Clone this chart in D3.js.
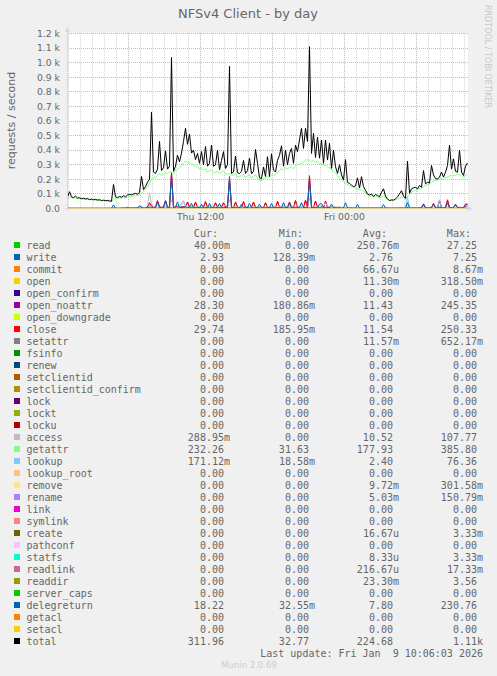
<!DOCTYPE html>
<html>
<head>
<meta charset="utf-8">
<script src="https://cdn.jsdelivr.net/npm/d3@7"></script>
<style>
html, body { margin: 0; padding: 0; background: #f0f0f0; }
svg { display: block; }
</style>
</head>
<body>
<svg id="chart" width="497" height="676"></svg>
<script>
const title = 'NFSv4 Client - by day';
const yLabel = 'requests / second';
const watermark = 'RRDTOOL / TOBI OETIKER';
const lastUpdate = 'Last update: Fri Jan  9 10:06:03 2026';
const version = 'Munin 2.0.69';

// 10 minute steps, first sample Thu 00:55
const startTime = new Date(2026, 0, 8, 0, 55);
const stepMinutes = 10;
const yMax = 1200;
const yTickStep = 100;

const total = [
	78,115,80,75,85,72,74,68,70,66,68,62,64,60,63,58,60,55,57,54,
	56,52,50,165,80,75,82,78,88,80,92,96,94,100,104,98,110,220,130,150,
	180,200,660,250,240,270,460,260,280,395,270,290,1035,255,290,365,320,380,460,550,
	440,510,380,400,335,378,310,390,300,425,290,310,435,290,300,400,265,330,390,275,
	300,975,240,250,360,245,240,255,330,240,260,345,238,255,405,310,210,205,285,220,
	355,220,375,265,250,330,365,430,290,400,300,378,412,310,435,390,470,550,412,550,
	460,1110,378,515,350,490,345,470,310,470,332,447,275,400,287,240,300,230,195,335,
	178,172,160,150,155,210,140,218,150,125,100,92,100,82,95,90,80,112,135,85,
	66,55,59,58,66,80,100,122,85,70,325,105,135,142,145,135,158,146,260,169,
	180,175,295,230,205,203,215,250,215,249,295,435,270,340,255,249,398,250,226,290,
	312
];

const getattr = [
	70,74,74,70,72,68,68,65,65,63,63,60,60,58,58,55,56,53,53,50,
	51,49,48,60,70,70,72,72,75,74,78,82,84,88,90,90,95,105,120,135,
	150,170,200,215,215,225,240,225,235,245,240,250,252,235,265,270,280,290,310,325,
	318,315,305,300,285,290,270,280,260,275,250,258,265,245,250,255,240,250,260,240,
	235,238,225,230,240,215,220,225,235,212,222,230,210,218,232,205,195,190,205,210,
	225,215,230,225,232,250,260,275,262,280,270,285,280,275,290,300,305,310,318,330,
	335,330,320,330,315,325,305,310,295,300,285,280,270,250,240,225,210,195,185,175,
	165,158,150,145,140,135,130,128,118,110,90,85,86,78,80,80,74,80,84,76,
	62,52,55,54,60,62,70,78,72,62,85,95,112,120,125,130,135,140,150,158,
	162,168,180,190,192,195,200,205,200,212,215,225,225,230,226,235,232,225,212,228,
	232
];

const close = [
	1,1,1,1,1,1,1,1,1,1,1,1,1,1,1,1,1,1,1,1,
	1,1,1,2,1,1,1,2,2,2,8,3,2,2,3,2,3,10,4,5,
	8,35,20,6,10,55,12,8,10,55,8,10,248,8,15,12,8,10,12,15,
	45,10,8,6,45,8,6,6,8,48,6,8,6,8,40,8,6,8,40,10,
	8,210,8,6,45,8,6,8,48,6,8,6,6,45,8,6,6,8,6,40,
	8,6,6,8,6,50,8,6,8,6,8,45,8,6,55,8,6,8,6,58,
	8,225,8,6,52,8,6,10,6,52,8,6,8,6,5,4,10,3,3,4,
	3,3,2,2,2,3,2,2,2,2,2,2,2,2,2,2,2,2,3,2,
	2,2,2,2,2,2,2,3,2,2,5,3,3,3,4,3,4,4,30,4,
	5,4,6,35,5,5,58,6,5,6,60,8,6,6,25,6,8,6,6,30,
	29.74
];

const openNoattr = [
	0.5,0.5,0.4,0.5,0.5,0.4,0.5,0.5,0.4,0.5,0.5,0.4,0.5,0.5,0.4,0.5,0.5,0.4,0.5,0.5,
	1,1,1,2,1,1,1,2,2,2,7,3,2,2,3,2,3,9,4,5,
	8,40,18,6,9,50,11,8,9,52,8,9,240,8,14,11,8,9,11,14,
	42,9,8,6,43,8,6,6,8,45,6,8,6,8,38,8,6,8,38,9,
	8,200,8,6,43,8,6,8,45,6,8,6,6,43,8,6,6,8,6,38,
	8,6,6,8,6,48,8,6,8,6,8,43,8,6,52,8,6,8,6,55,
	8,215,8,6,50,8,6,9,6,50,8,6,8,6,5,4,9,3,3,4,
	3,3,2,2,2,3,2,2,2,2,2,2,2,2,2,2,2,2,3,2,
	2,2,2,2,2,2,2,3,2,2,5,3,3,3,4,3,4,4,28,4,
	5,4,6,33,5,5,55,6,5,6,57,8,6,6,24,6,8,6,6,28,
	28.3
];

const delegreturn = [
	1,1,1,1,1,1,1,1,1,1,1,1,1,1,1,1,1,1,1,1,
	1,1,1,25,2,1,1,1,2,2,3,2,2,2,3,2,20,4,3,4,
	5,10,8,4,6,45,6,5,6,50,5,6,230,6,8,45,6,8,10,12,
	6,8,35,8,6,6,5,30,6,6,5,35,6,5,6,8,35,6,6,8,
	6,220,6,6,6,5,6,30,6,5,6,35,6,5,6,5,30,6,5,6,
	6,5,35,6,5,6,6,5,40,6,5,35,6,5,6,6,5,40,6,6,
	6,195,6,5,6,6,30,35,6,6,5,6,30,6,5,4,4,3,3,40,
	3,3,3,2,2,30,2,3,2,2,2,2,2,2,2,2,2,3,28,2,
	1,1,1,1,1,1,2,2,2,2,40,3,3,3,3,3,4,4,32,4,
	4,5,6,30,5,5,8,6,5,6,35,6,5,6,30,6,5,6,6,15,
	18.22
];

const write = [
	0.5,0.4,0.6,0.5,0.5,0.4,0.5,0.5,0.4,0.5,0.3,0.5,0.4,0.3,0.5,0.4,0.3,0.4,0.3,0.2,
	0.3,0.2,0.2,3,0.5,0.4,0.5,0.6,1,1,1.5,1,1.2,1.5,1.8,1.5,2,3,2,2,
	2.5,3,3.5,2.5,3,4,3,3,3.5,4,3,3.5,7,3,3.5,4,3.5,4,4.5,5,
	4.5,4,4.5,4,3.5,4,3.5,4,3.5,4,3.5,3.5,4,3.5,3.5,4,3,3.5,4,3.5,
	3.5,6,3,3.5,3.5,3,3.5,3,3.5,3,3,3.5,3,3,3.5,3,3,2.5,3,3,
	3,3.5,3,3.5,3.5,4,4,4.5,4,4.5,4.5,5,4.5,5,5,5.5,5,5.5,6,6,
	6,7.2,6,5.5,6,5.5,5,5.5,5,5,4.5,4.5,4,4,3.5,3,3,2.5,2.5,2.5,
	2,2,2,1.8,1.8,1.6,1.5,1.5,1.2,1.2,1,1,0.9,0.9,0.8,0.8,0.8,1,1.2,0.8,
	0.6,0.5,0.5,0.5,0.6,0.7,0.8,1,0.9,0.8,1.5,1,1.2,1.3,1.4,1.5,1.6,1.8,2.2,2,
	2,2.2,2.5,2.4,2.4,2.5,2.6,2.8,2.7,2.8,3,3,2.9,3,2.9,3,3,2.9,3,2.9,
	2.93
];

const lookup = [
	0.3,0.3,0.3,0.3,0.3,0.3,0.3,0.3,0.3,0.3,0.3,0.3,0.3,0.3,0.3,0.3,0.3,0.3,0.3,0.3,
	0.3,0.3,0.3,2,0.5,0.4,0.5,0.5,0.6,0.6,0.8,0.6,0.7,0.8,1,0.8,1.2,2,1.5,2,
	2,25,8,2,2,4,2,2,2,3,2,2,10,2,3,4,3,40,55,8,
	3,2,3,2,2,2,2,3,2,2,2,3,2,2,2,3,2,2,3,2,
	2,8,2,2,2,2,2,2,3,2,2,2,2,2,2,2,2,2,2,2,
	2,2,2,2,2,2,3,3,3,3,3,3,3,3,12,3,3,10,3,3,
	3,8,3,3,3,3,3,3,3,10,3,3,8,2,2,2,2,1.5,1.5,2,
	1,1,1,1,1,3,1,1,1,1,1,1,1,1,1,1,1,1,4,1,
	0.5,0.5,0.5,0.5,0.5,0.5,0.6,0.8,0.8,6,76,8,1,1,1,1,1,1,3,1,
	1,1,1,1,1,2,60,3,1,1,2,1,1,1,1,1,1,1,1,0.5,
	0.17
];

const access = [
	1,1,1,1,1,1,1,1,1,1,1,1,1,1,1,1,1,1,1,1,
	1,1,1,5,1,1,1,1,1,2,3,2,2,2,3,2,5,10,5,8,
	20,108,30,10,10,25,12,10,10,25,10,12,60,10,15,20,15,25,45,20,
	15,12,20,12,12,15,12,18,12,15,12,18,12,12,15,12,18,12,12,30,
	12,60,10,10,15,10,10,15,10,10,15,10,10,15,10,10,12,8,10,12,
	12,10,15,12,12,20,15,15,20,15,15,20,15,15,30,18,15,35,18,18,
	20,70,18,15,20,15,15,18,15,40,15,15,25,12,10,10,8,8,8,8,
	6,6,5,5,5,8,5,5,4,4,4,4,3,3,3,3,3,3,6,3,
	2,2,2,2,2,2,3,3,3,3,15,4,4,4,5,5,5,5,10,5,
	6,6,8,8,6,6,12,8,6,6,10,6,6,6,8,6,6,6,6,6,
	0.29
];

const seriesNames = ['read','write','commit','open','open_confirm','open_noattr','open_downgrade','close',
	'setattr','fsinfo','renew','setclientid','setclientid_confirm','lock','lockt','locku','access',
	'getattr','lookup','lookup_root','remove','rename','link','symlink','create','pathconf','statfs',
	'readlink','readdir','server_caps','delegreturn','getacl','setacl','total'];

const seriesColors = ['#00CC00','#0066B3','#FF8000','#FFCC00','#330099','#990099','#CCFF00','#FF0000',
	'#808080','#008F00','#00487D','#B35A00','#B38F00','#6B006B','#8FB300','#B30000','#BEBEBE',
	'#80FF80','#80C9FF','#FFC080','#FFE680','#AA80FF','#EE00CC','#FF8080','#666600','#FFBFFF','#00FFCC',
	'#CC6699','#999900','#00CC00','#0066B3','#FF8000','#FFCC00','#000000'];

const curValues = ['40.00m','2.93','0.00','0.00','0.00','28.30','0.00','29.74','0.00','0.00','0.00','0.00',
	'0.00','0.00','0.00','0.00','288.95m','232.26','171.12m','0.00','0.00','0.00','0.00','0.00','0.00',
	'0.00','0.00','0.00','0.00','0.00','18.22','0.00','0.00','311.96'];
const minValues = ['0.00','128.39m','0.00','0.00','0.00','180.86m','0.00','185.95m','0.00','0.00','0.00','0.00',
	'0.00','0.00','0.00','0.00','0.00','31.63','18.58m','0.00','0.00','0.00','0.00','0.00','0.00',
	'0.00','0.00','0.00','0.00','0.00','32.55m','0.00','0.00','32.77'];
const avgValues = ['250.76m','2.76','66.67u','11.30m','0.00','11.43','0.00','11.54','11.57m','0.00','0.00','0.00',
	'0.00','0.00','0.00','0.00','10.52','177.93','2.40','0.00','9.72m','5.03m','0.00','0.00','16.67u',
	'0.00','8.33u','216.67u','23.30m','0.00','7.80','0.00','0.00','224.68'];
const maxValues = ['27.25','7.25','8.67m','318.50m','0.00','245.35','0.00','250.33','652.17m','0.00','0.00','0.00',
	'0.00','0.00','0.00','0.00','107.77','385.80','76.36','0.00','301.58m','150.79m','0.00','0.00','3.33m',
	'0.00','3.33m','17.33m','3.56','0.00','230.76','0.00','0.00','1.11k'];

const columnHeaders = ['Cur:', 'Min:', 'Avg:', 'Max:'];

// series with readable data; the rest stay on the zero line
const seriesData = {
	write: write,
	open_noattr: openNoattr,
	close: close,
	access: access,
	getattr: getattr,
	lookup: lookup,
	delegreturn: delegreturn,
	total: total
};

const svg = d3.select('#chart');
const plot = { left: 67, right: 467, top: 33, bottom: 208 };
const fontSans = "'DejaVu Sans', sans-serif";
const fontMono = "'DejaVu Sans Mono', monospace";
const fontColor = '#666666';
const minorGrid = '#d4d4d4';
const majorGrid = '#f3a6a6';

const endTime = d3.timeMinute.offset(startTime, stepMinutes * (total.length - 1));
const x = d3.scaleTime().domain([startTime, endTime]).range([plot.left + 0.5, plot.right + 0.5]);
const y = d3.scaleLinear().domain([0, yMax]).range([plot.bottom + 0.5, plot.top + 0.5]);
const timeAt = (i) => d3.timeMinute.offset(startTime, stepMinutes * i);

// canvas
svg.append('rect')
	.attr('x', plot.left).attr('y', plot.top)
	.attr('width', plot.right - plot.left + 1).attr('height', plot.bottom - plot.top)
	.attr('fill', '#ffffff');

// vertical grid, hourly minor / six-hourly major
const hours = d3.timeHour.range(d3.timeHour.ceil(startTime), endTime);
svg.append('g').selectAll('line')
	.data(hours)
	.enter().append('line')
	.attr('x1', (d) => Math.round(x(d) - 0.5) + 0.5)
	.attr('x2', (d) => Math.round(x(d) - 0.5) + 0.5)
	.attr('y1', plot.top)
	.attr('y2', plot.bottom)
	.attr('stroke', (d) => d.getHours() % 6 === 0 ? majorGrid : minorGrid)
	.attr('stroke-dasharray', '1,1');

// horizontal grid
const yTicks = d3.range(0, yMax + 1, yTickStep);
svg.append('g').selectAll('line')
	.data(yTicks.slice(1))
	.enter().append('line')
	.attr('x1', plot.left)
	.attr('x2', plot.right + 2)
	.attr('y1', (d) => Math.round(y(d) - 0.5) + 0.5)
	.attr('y2', (d) => Math.round(y(d) - 0.5) + 0.5)
	.attr('stroke', majorGrid)
	.attr('stroke-dasharray', '1,1');

// y tick labels
svg.append('g').selectAll('text')
	.data(yTicks)
	.enter().append('text')
	.attr('x', 60)
	.attr('y', (d) => y(d) + 3.3)
	.attr('text-anchor', 'end')
	.attr('font-family', fontSans)
	.attr('font-size', '9.3px')
	.attr('fill', fontColor)
	.text((d) => d === 0 ? '0.0' : d3.format('.1f')(d / 1000) + ' k');

// x tick labels
const labelHours = hours.filter((d) => d.getHours() % 12 === 0);
svg.append('g').selectAll('text')
	.data(labelHours)
	.enter().append('text')
	.attr('x', (d) => x(d))
	.attr('y', 219.5)
	.attr('text-anchor', 'middle')
	.attr('font-family', fontSans)
	.attr('font-size', '9.3px')
	.attr('fill', fontColor)
	.text((d) => d3.timeFormat('%a %H:%M')(d));

// data lines, legend order, total on top
const line = d3.line()
	.x((d, i) => x(timeAt(i)))
	.y((d) => y(d));

const zeroSeries = total.map(() => 0);

svg.append('g').selectAll('path')
	.data(seriesNames)
	.enter().append('path')
	.attr('d', (name) => line(seriesData[name] || zeroSeries))
	.attr('fill', 'none')
	.attr('stroke', (name, i) => seriesColors[i])
	.attr('stroke-width', 1)
	.attr('stroke-linejoin', 'round');

// axes with arrows
const axisColor = '#CFD6F8';
svg.append('line')
	.attr('x1', plot.left + 0.5).attr('x2', plot.left + 0.5)
	.attr('y1', plot.bottom + 3).attr('y2', plot.top - 3)
	.attr('stroke', axisColor);
svg.append('path')
	.attr('d', `M${plot.left - 2},${plot.top - 1}L${plot.left + 3},${plot.top - 1}L${plot.left + 0.5},${plot.top - 6}Z`)
	.attr('fill', axisColor);
svg.append('line')
	.attr('x1', plot.left - 3).attr('x2', plot.right + 3)
	.attr('y1', plot.bottom + 0.5).attr('y2', plot.bottom + 0.5)
	.attr('stroke', axisColor)
	.attr('stroke-opacity', 0.6);
svg.append('path')
	.attr('d', `M${plot.right + 1},${plot.bottom - 2}L${plot.right + 1},${plot.bottom + 3}L${plot.right + 6},${plot.bottom + 0.5}Z`)
	.attr('fill', axisColor);

// title and side texts
svg.append('text')
	.attr('x', 248).attr('y', 18)
	.attr('text-anchor', 'middle')
	.attr('font-family', fontSans)
	.attr('font-size', '13px')
	.attr('fill', fontColor)
	.text(title);

svg.append('text')
	.attr('transform', `translate(15,${(plot.top + plot.bottom) / 2}) rotate(-90)`)
	.attr('text-anchor', 'middle')
	.attr('font-family', fontSans)
	.attr('font-size', '11px')
	.attr('fill', fontColor)
	.text(yLabel);

svg.append('text')
	.attr('transform', 'translate(484.5,5) rotate(90)')
	.attr('text-anchor', 'start')
	.attr('font-family', fontSans)
	.attr('font-size', '8px')
	.attr('fill', '#c8c8c8')
	.text(watermark);

// legend
const legendTop = 245;
const rowStep = 12;
const charWidth = 6.02;
const colRight = [230, 315, 399, 483];

const legend = svg.append('g')
	.attr('font-family', fontMono)
	.attr('font-size', '10px')
	.attr('fill', fontColor);

legend.selectAll('.hdr')
	.data(columnHeaders)
	.enter().append('text')
	.attr('class', 'hdr')
	.attr('x', (d, i) => colRight[i] - 2 * charWidth)
	.attr('y', legendTop - rowStep + 3.6)
	.attr('text-anchor', 'end')
	.text((d) => d);

const rows = legend.selectAll('.row')
	.data(seriesNames)
	.enter().append('g')
	.attr('class', 'row')
	.attr('transform', (d, i) => `translate(0,${legendTop + i * rowStep})`);

rows.append('rect')
	.attr('x', 14).attr('y', -3)
	.attr('width', 6).attr('height', 6)
	.attr('fill', (d, i) => seriesColors[i]);

rows.append('text')
	.attr('x', 26.5).attr('y', 3.6)
	.text((d) => d);

const columns = [curValues, minValues, avgValues, maxValues];
columns.forEach((col, c) => {
	rows.append('text')
		.attr('x', (d, i) => /[0-9]$/.test(col[i]) ? colRight[c] - charWidth : colRight[c])
		.attr('y', 3.6)
		.attr('text-anchor', 'end')
		.text((d, i) => col[i]);
});

legend.append('text')
	.attr('x', colRight[3])
	.attr('y', legendTop + seriesNames.length * rowStep + 3.6)
	.attr('text-anchor', 'end')
	.attr('xml:space', 'preserve')
	.style('white-space', 'pre')
	.text(lastUpdate);

svg.append('text')
	.attr('x', 249).attr('y', 668)
	.attr('text-anchor', 'middle')
	.attr('font-family', fontSans)
	.attr('font-size', '8.5px')
	.attr('fill', '#cccccc')
	.text(version);
</script>
</body>
</html>
